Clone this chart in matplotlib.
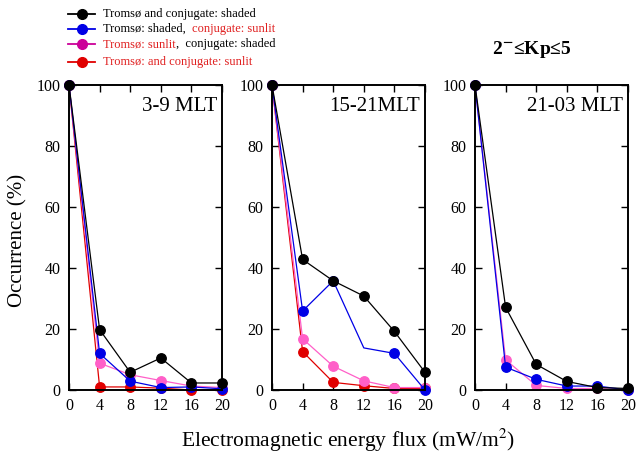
import matplotlib
matplotlib.use('Agg')
import matplotlib.pyplot as plt
from matplotlib.lines import Line2D

plt.rcParams['font.family'] = ['Liberation Serif', 'DejaVu Serif']
plt.rcParams['mathtext.fontset'] = 'stix'

# energy flux bins (mW/m^2)
flux = [0, 4, 8, 12, 16, 20]
panels = ['3-9 MLT', '15-21MLT', '21-03 MLT']

# occurrence (%) per panel, per illumination condition
both_shaded = [
    [100, 19.8, 5.8, 10.5, 2.3, 2.3],
    [100, 42.8, 35.8, 30.8, 19.2, 5.8],
    [100, 27.1, 8.4, 2.8, 0.8, 0.5],
]
trom_shaded = [
    [100, 12.0, 2.9, 0.8, 1.0, 0.4],
    [100, 25.9, 35.8, 13.8, 12.0, 0.0],
    [100, 7.5, 3.5, 1.3, 1.3, 0.0],
]
trom_sunlit = [
    [100, 8.8, 5.0, 3.1, 1.3, 0.8],
    [100, 16.8, 7.8, 3.0, 0.8, 0.8],
    [100, 9.9, 1.5, 0.5, 0.5, 0.0],
]
both_sunlit = [
    [100, 1.0, 1.0, 0.6, 0.0, 0.0],
    [100, 12.6, 2.5, 1.4, 0.5, 0.5],
    None,
]
# blue point at 12 in the 15-21 panel has no marker in the original
blue_marks = [None, [0, 1, 2, 4, 5], None]

c_black = 'black'
c_blue = '#0000e6'
c_pink = '#ff5fc8'
c_pink_leg = '#cc0099'
c_red = '#e00000'
c_text_red = '#e02020'

fig = plt.figure(figsize=(6.36, 4.59), dpi=100)
lefts = [69, 272, 475]
for i in range(3):
    ax = fig.add_axes([lefts[i] / 636, 1 - 390 / 459, 153 / 636, 305 / 459])
    kw = dict(marker='o', markersize=6.8, linewidth=0.9, clip_on=False)
    if both_sunlit[i] is not None:
        ax.plot(flux, both_sunlit[i], color=c_red, **kw)
    ax.plot(flux, trom_sunlit[i], color=c_pink, **kw)
    ax.plot(flux, trom_shaded[i], color=c_blue, markevery=blue_marks[i], **kw)
    ax.plot(flux, both_shaded[i], color=c_black, **kw)
    ax.set_xlim(0, 20)
    ax.set_ylim(0, 100)
    ax.set_xticks(flux)
    ax.set_yticks(range(0, 101, 20))
    ax.tick_params(direction='in', top=True, right=True, length=5, width=1,
                   labelsize=11.5, pad=6)
    for s in ax.spines.values():
        s.set_linewidth(1.4)
    ax.text(0.97, 0.96, panels[i], transform=ax.transAxes, ha='right', va='top',
            fontsize=15)

fig.text(18 / 636, 1 - 240 / 459, 'Occurrence (%)', rotation=90, ha='center',
         va='center', fontsize=15)
fig.text(348 / 636, 1 - 440 / 459, 'Electromagnetic energy flux (mW/m$^2$)',
         ha='center', va='center', fontsize=15.5)
fig.text(532 / 636, 1 - 50 / 459, r'2$^{\mathbf{-}}$≤Kp≤5', ha='center', va='center',
         fontsize=14, fontweight='bold')

# legend drawn by hand (mixed-colour labels)
rows = [
    (14, c_black, [('Tromsø and conjugate: shaded', c_black)]),
    (29, c_blue, [('Tromsø: shaded,  ', c_black), ('conjugate: sunlit', c_text_red)]),
    (44, c_pink_leg, [('Tromsø: sunlit', c_text_red), (',  conjugate: shaded', c_black)]),
    (62, c_red, [('Tromsø: and conjugate: sunlit', c_text_red)]),
]
for y, col, parts in rows:
    yf = 1 - y / 459
    fig.add_artist(Line2D([68 / 636, 95 / 636], [yf, yf], color=col, linewidth=1.3,
                          transform=fig.transFigure))
    fig.add_artist(Line2D([81.5 / 636], [yf], color=col, marker='o', markersize=7,
                          transform=fig.transFigure))
    prev = fig.text(103 / 636, yf, parts[0][0], color=parts[0][1], fontsize=9,
                    ha='left', va='center')
    for txt, tc in parts[1:]:
        prev = fig.axes[0].annotate(txt, xy=(1, 0.5), xycoords=prev, color=tc,
                                    fontsize=9, ha='left', va='center',
                                    annotation_clip=False)

fig.savefig('out.png', dpi=100)
